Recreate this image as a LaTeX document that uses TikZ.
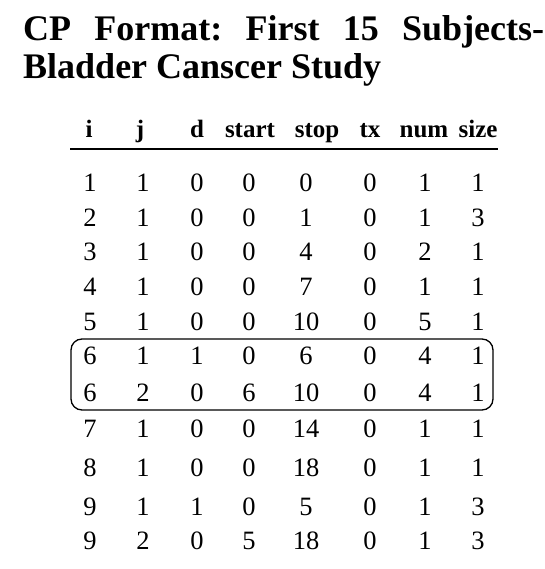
\documentclass[tikz,border=0pt]{standalone}
\usepackage{fontspec}
\setmainfont{Liberation Serif}
\frenchspacing
\begin{document}
\begin{tikzpicture}[x=1pt,y=-1pt,
  titletext/.style={anchor=base west,inner sep=0pt,font=\fontsize{36}{40}\selectfont\bfseries},
  headtext/.style={anchor=base,inner sep=0pt,font=\fontsize{25}{28}\selectfont\bfseries},
  celltext/.style={anchor=base,inner sep=0pt,font=\fontsize{26.5}{30}\selectfont},
  rulestyle/.style={line width=2pt},
  groupbox/.style={rounded corners=11pt,line width=1.3pt}]
\useasboundingbox (0,0) rectangle (544,569);
% title
\node[titletext] (t1) at (23,41) {\makebox[521pt][s]{CP Format: First 15 Subjects-}};
\node[titletext] (t2) at (23,79) {Bladder Canscer Study};
% header
\foreach \h/\x [count=\k] in {i/89,j/140,d/197,start/250,stop/317,tx/370,num/424,size/478}
  \node[headtext] (h\k) at (\x,138) {\h};
\coordinate (rl) at (70,149);
\coordinate (rr) at (498,149);
\draw[rulestyle] (rl) -- (rr);
% data
\foreach \y/\row [count=\r] in {
  192/{1,1,0,0,0,0,1,1},
  226/{2,1,0,0,1,0,1,3},
  260/{3,1,0,0,4,0,2,1},
  295/{4,1,0,0,7,0,1,1},
  330/{5,1,0,0,10,0,5,1},
  364/{6,1,1,0,6,0,4,1},
  401/{6,2,0,6,10,0,4,1},
  437/{7,1,0,0,14,0,1,1},
  476/{8,1,0,0,18,0,1,1},
  515/{9,1,1,0,5,0,1,3},
  549/{9,2,0,5,18,0,1,3}}{
  \foreach \v [count=\c] in \row {
    \pgfmathsetmacro{\xx}{{90,143,197,249,306,370,425,478}[\c-1]}
    \node[celltext] (d\r-\c) at (\xx,\y) {\v};
  }
}
% highlight box around subject 6
\coordinate (b1) at (71,339);
\coordinate (b2) at (493,410);
\draw[groupbox] (b1) rectangle (b2);
\end{tikzpicture}
\end{document}
